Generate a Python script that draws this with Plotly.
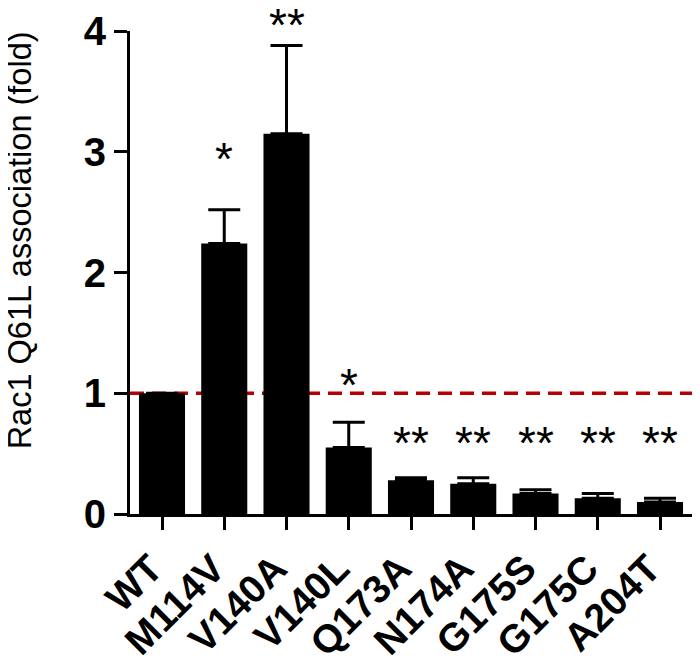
import plotly.graph_objects as go

categories = ["WT", "M114V", "V140A", "V140L", "Q173A", "N174A", "G175S", "G175C", "A204T"]
values = [1.0, 2.24, 3.15, 0.55, 0.28, 0.25, 0.17, 0.13, 0.10]
errors = [0.0, 0.28, 0.73, 0.21, 0.02, 0.05, 0.03, 0.04, 0.03]
stars = ["", "*", "**", "*", "**", "**", "**", "**", "**"]
star_y = [None, 2.94, 4.05, 1.07, 0.59, 0.59, 0.59, 0.59, 0.59]
ref_level = 1.0
y_max = 4
y_ticks = [0, 1, 2, 3, 4]
y_title = "Rac1 Q61L association (fold)"

FONT = "Liberation Sans, Arial, sans-serif"
PX_PER_UNIT = 121  # plot height / y range, used to lift labels above the axis top

fig = go.Figure()
fig.add_trace(go.Bar(
    x=categories, y=values,
    marker=dict(color="black", line=dict(width=0)),
    width=0.74,
    error_y=dict(type="data", array=errors, symmetric=False, arrayminus=[0]*len(errors),
                 color="black", thickness=3, width=16, visible=True),
    showlegend=False,
))

fig.add_shape(type="line", xref="paper", yref="y", x0=0, x1=1, y0=ref_level, y1=ref_level,
              line=dict(color="#b80000", width=3.5, dash="14px,8px"), layer="below")

for c, s, y in zip(categories, stars, star_y):
    if s:
        ya = min(y, y_max)
        fig.add_annotation(x=c, y=ya, yshift=(y - ya) * PX_PER_UNIT, text=s,
                           showarrow=False, yanchor="middle",
                           font=dict(family=FONT, size=46, color="black"))

fig.add_annotation(xref="paper", yref="paper", x=-0.195, y=0.567, text=y_title,
                   textangle=-90, showarrow=False, xanchor="center", yanchor="middle",
                   font=dict(family=FONT, size=32.5, color="black"))

fig.update_layout(
    width=700, height=661,
    margin=dict(l=122, r=15, t=23, b=155, autoexpand=False),
    plot_bgcolor="white", paper_bgcolor="white",
)
fig.update_xaxes(
    range=[-0.514, 8.53], showline=True, linecolor="black", linewidth=3,
    ticks="outside", ticklen=13, tickwidth=3, tickcolor="black",
    tickangle=-45, tickfont=dict(family=FONT, size=39, color="black", weight="bold"),
    ticklabelshift=-11,
    showgrid=False, zeroline=False, automargin=False,
)
fig.update_yaxes(
    range=[0, y_max], tickvals=y_ticks, showline=True, linecolor="black", linewidth=3,
    ticks="outside", ticklen=13, tickwidth=3, tickcolor="black",
    tickfont=dict(family=FONT, size=40, color="black", weight="bold"),
    showgrid=False, zeroline=False, automargin=False,
)

fig.write_html("out.html")
